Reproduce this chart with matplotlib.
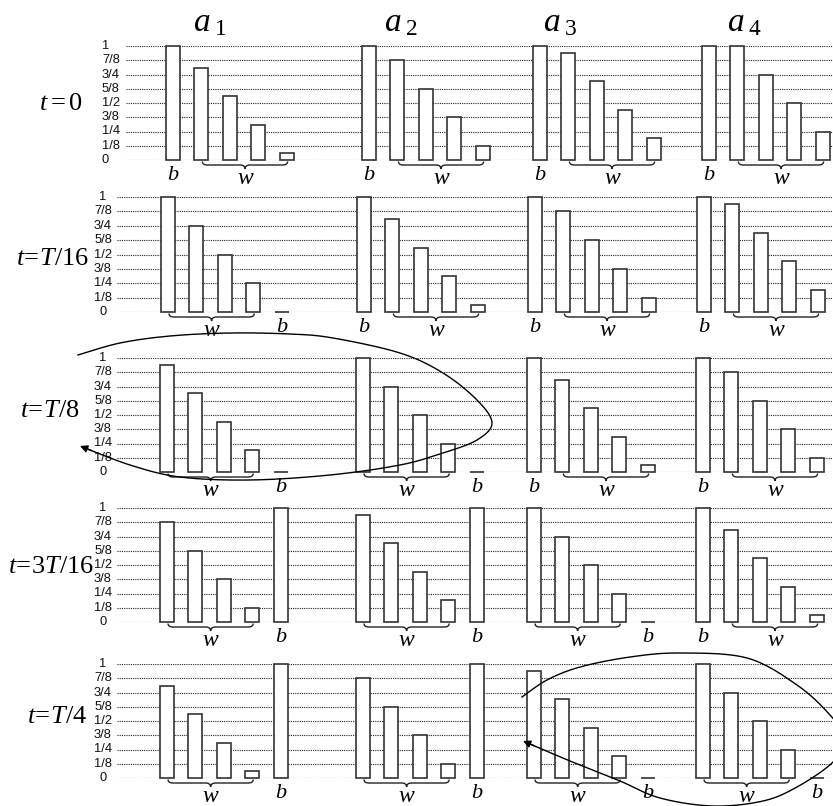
import numpy as np
import matplotlib
matplotlib.use("Agg")
import matplotlib.pyplot as plt
from matplotlib.path import Path
from matplotlib.patches import PathPatch, FancyArrowPatch

plt.rcParams['mathtext.fontset'] = 'custom'
plt.rcParams['mathtext.rm'] = 'Liberation Serif'
plt.rcParams['mathtext.it'] = 'Liberation Serif:italic'

# ---------------- data ----------------
row_labels = [r'$t=0$', r'$t\!=\!T/16$', r'$t\!=\!T/8$', r'$t\!=\!3T/16$', r'$t\!=\!T/4$']
col_labels = [r'$a_{\;1}$', r'$a_{\;2}$', r'$a_{\;3}$', r'$a_{\;4}$']
tick_values = [0, 1/8, 1/4, 3/8, 1/2, 5/8, 3/4, 7/8, 1]
tick_labels = ['0', '1/8', '1/4', '3/8', '1/2', '5/8', '3/4', '7/8', '1']

# slot (0..4) holding the b bar, per row and group
b_slot = [[0, 0, 0, 0],
          [4, 0, 0, 0],
          [4, 4, 0, 0],
          [4, 4, 4, 0],
          [4, 4, 4, 4]]
# height of the b bar
b_val = [[1, 1, 1, 1],
         [0, 1, 1, 1],
         [0, 0, 1, 1],
         [1, 1, 0, 1],
         [1, 1, 0, 0]]
# heights of the four w bars
w_val = [
    [[0.81, 0.56, 0.31, 0.06], [0.875, 0.625, 0.375, 0.125], [0.94, 0.69, 0.44, 0.19], [1.0, 0.75, 0.5, 0.25]],
    [[1.0, 0.75, 0.5, 0.25], [0.81, 0.56, 0.31, 0.06], [0.875, 0.625, 0.375, 0.125], [0.94, 0.69, 0.44, 0.19]],
    [[0.94, 0.69, 0.44, 0.19], [1.0, 0.75, 0.5, 0.25], [0.81, 0.56, 0.31, 0.06], [0.875, 0.625, 0.375, 0.125]],
    [[0.875, 0.625, 0.375, 0.125], [0.94, 0.69, 0.44, 0.19], [1.0, 0.75, 0.5, 0.25], [0.81, 0.56, 0.31, 0.06]],
    [[0.81, 0.56, 0.31, 0.06], [0.875, 0.625, 0.375, 0.125], [0.94, 0.69, 0.44, 0.19], [1.0, 0.75, 0.5, 0.25]],
]

# ---------------- layout (pixels) ----------------
W, H = 833, 806
row_base = [160, 312, 472, 622, 778]
row_top = [46, 197, 358, 508, 664]
row_shift = [0, -5, -6, -6, -6]
group_x = [166, 362, 533, 702]
slot_dx = 28.4
bar_w = 14
grid_x0 = [126, 117, 117, 117, 117]
grid_x1 = 832
tick_x = [102, 103, 103, 103, 103]
tick_ha = ['left', 'center', 'center', 'center', 'center']
row_label_xy = [(61, 103), (53, 258), (50, 410), (51, 566), (57, 716)]
col_label_xy = [(210, 22), (401, 22), (560, 22), (744, 22)]

fig = plt.figure(figsize=(W / 100, H / 100), dpi=100)

edge = '#333333'
serif_it = dict(family='Liberation Serif', style='italic')

for r in range(5):
    hpx = row_base[r] - row_top[r]
    ax = fig.add_axes([0, 1 - row_base[r] / H, 1, hpx / H])
    ax.set_xlim(0, W)
    ax.set_ylim(0, 1)
    ax.axis('off')
    p = 1.0 / hpx  # value units per pixel

    for v, lab in zip(tick_values, tick_labels):
        ax.plot([grid_x0[r], grid_x1], [v, v], ls=(0, (1, 1)), color='#222222', lw=0.8, zorder=1)
        ax.text(tick_x[r], v, lab, ha=tick_ha[r], va='center', fontsize=9.3,
                family='Liberation Sans', color='#111111')

    for g in range(4):
        x0 = group_x[g] + row_shift[r]
        centers = [x0 + s * slot_dx + bar_w / 2 for s in range(5)]
        heights = []
        wi = 0
        w_slots = []
        for s in range(5):
            if s == b_slot[r][g]:
                heights.append(b_val[r][g])
            else:
                heights.append(w_val[r][g][wi])
                w_slots.append(s)
                wi += 1
        ax.bar(centers, heights, width=bar_w, facecolor='white', edgecolor=edge,
               linewidth=1.2, zorder=3, clip_on=False)

        # b label
        bx = centers[b_slot[r][g]]
        ax.text(bx, -16 * p, 'b', ha='center', va='center', fontsize=16, clip_on=False, **serif_it)

        # brace under the w bars
        xa = centers[w_slots[0]] + 1
        xb = centers[w_slots[-1]] + 1
        xm = (xa + xb) / 2
        y1, y2, y3 = -1.5 * p, -5 * p, -9 * p
        verts = [(xa, y1), (xa, y2), (xa + 5, y2),
                 (xm - 5, y2), (xm, y2), (xm, y3),
                 (xm, y2), (xm + 5, y2),
                 (xb - 5, y2), (xb, y2), (xb, y1)]
        codes = [Path.MOVETO, Path.CURVE3, Path.CURVE3,
                 Path.LINETO, Path.CURVE3, Path.CURVE3,
                 Path.CURVE3, Path.CURVE3,
                 Path.LINETO, Path.CURVE3, Path.CURVE3]
        ax.add_patch(PathPatch(Path(verts, codes), facecolor='none', edgecolor='#222222',
                               lw=1.0, clip_on=False, zorder=4))
        ax.text(xm, -18 * p, 'w', ha='center', va='center', fontsize=17, clip_on=False, **serif_it)

# overlay in pixel coordinates for headings and curved arrows
ov = fig.add_axes([0, 0, 1, 1], zorder=10)
ov.set_xlim(0, W)
ov.set_ylim(H, 0)
ov.axis('off')
ov.patch.set_alpha(0)

for (x, y), lab in zip(row_label_xy, row_labels):
    ov.text(x, y, lab, ha='center', va='center', fontsize=19)
for (x, y), lab in zip(col_label_xy, col_labels):
    ov.text(x, y, lab, ha='center', va='center', fontsize=24)


def catmull(pts, n=16):
    pts = np.asarray(pts, float)
    out = []
    for i in range(len(pts) - 1):
        p0 = pts[i - 1] if i > 0 else pts[i]
        p1, p2 = pts[i], pts[i + 1]
        p3 = pts[i + 2] if i + 2 < len(pts) else pts[i + 1]
        t = np.linspace(0, 1, n, endpoint=False)[:, None]
        seg = 0.5 * ((2 * p1) + (-p0 + p2) * t + (2 * p0 - 5 * p1 + 4 * p2 - p3) * t ** 2
                     + (-p0 + 3 * p1 - 3 * p2 + p3) * t ** 3)
        out.append(seg)
    out.append(pts[-1:])
    return np.vstack(out)


curve_a = [(78, 355), (120, 343), (170, 336), (230, 333), (290, 334), (333, 338), (400, 353),
           (443, 373), (477, 400), (492, 423), (477, 440), (443, 453), (400, 465), (330, 475),
           (250, 480), (180, 477), (130, 465), (80, 446)]
curve_b = [(522, 697), (547, 680), (580, 667), (630, 657), (680, 653), (747, 658), (797, 685),
           (830, 715), (846, 740), (832, 763), (797, 787), (763, 801), (713, 806), (660, 798),
           (620, 781), (570, 761), (523, 741)]

for pts in (curve_a, curve_b):
    c = catmull(pts)
    ov.plot(c[:-3, 0], c[:-3, 1], color='black', lw=1.0, clip_on=True)
    ov.add_patch(FancyArrowPatch(tuple(c[-6]), tuple(c[-1]), arrowstyle='-|>', mutation_scale=11,
                                 color='black', lw=1.0, shrinkA=0, shrinkB=0))

fig.savefig('out.png', dpi=100)
